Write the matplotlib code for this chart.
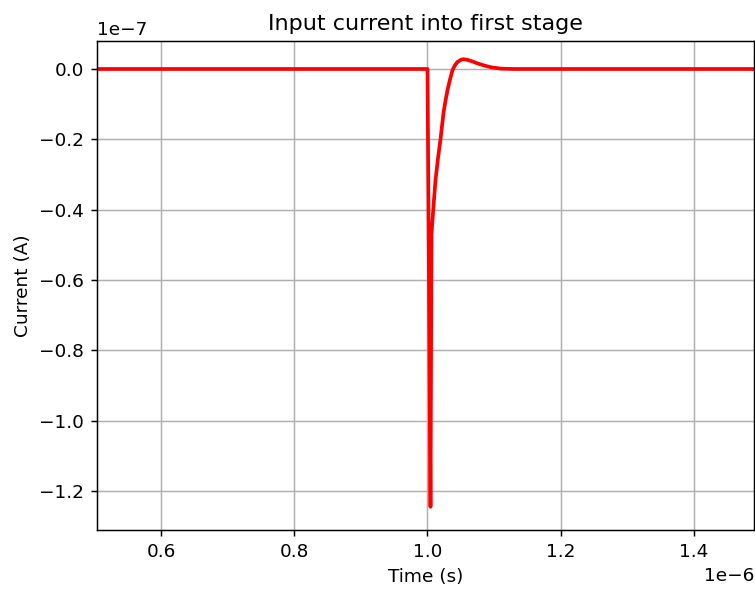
import matplotlib
matplotlib.use("Agg")
import matplotlib.pyplot as plt
import numpy as np

# time in microseconds, current in 1e-7 A
time_us = [0.504, 1.000, 1.0045, 1.0060, 1.0090, 1.0120, 1.0160, 1.0195, 1.0240,
           1.0270, 1.0300, 1.0340, 1.0376, 1.0410, 1.0450, 1.0500, 1.0540, 1.0600,
           1.0680, 1.0750, 1.0850, 1.0950, 1.1100, 1.1300, 1.4900]
current_e7 = [0.0, 0.0, -1.245, -0.470, -0.390, -0.316, -0.250, -0.200, -0.125,
              -0.090, -0.060, -0.028, -0.003, 0.010, 0.020, 0.026, 0.028, 0.026,
              0.021, 0.016, 0.010, 0.005, 0.001, 0.0, 0.0]

t = np.array(time_us) * 1e-6
i = np.array(current_e7) * 1e-7

DPI = 133.33
fig = plt.figure(figsize=(755 / DPI, 590 / DPI), dpi=DPI)
ax = fig.add_axes([97/755, 1 - 530/590, (754 - 97)/755, (530 - 41)/590])
ax.plot(t, i, color="red", linewidth=2)
ax.set_xlim(0.504e-6, 1.49e-6)
ax.set_ylim(-1.311e-7, 0.0796e-7)
ax.set_title("Input current into first stage")
ax.set_xlabel("Time (s)")
ax.set_ylabel("Current (A)")
ax.grid(True)
fig.savefig("out.png", dpi=DPI)
